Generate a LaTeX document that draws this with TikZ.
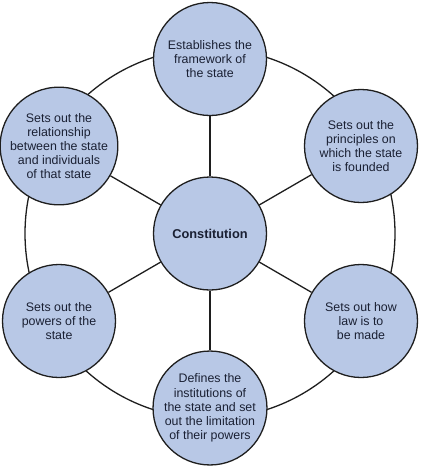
\documentclass[tikz,border=0pt]{standalone}
\usepackage{fontspec}
\setmainfont{Liberation Sans}
\definecolor{bubblefill}{HTML}{B8C8E6}
\definecolor{bubbleline}{HTML}{1E1E1E}
\definecolor{textcol}{HTML}{1A2033}
\begin{document}
\begin{tikzpicture}[x=1pt,y=-1pt,
  bubble/.style={circle,draw=bubbleline,fill=bubblefill,line width=1.3pt,minimum size=113pt,inner sep=0pt,align=center,text=textcol,font=\fontsize{12.4}{14.2}\selectfont},
  link/.style={draw=bubbleline,line width=1.3pt}]
\useasboundingbox (0,0) rectangle (423,467);
\coordinate (c0) at (210,233.5);
\draw[link] (c0) circle[radius=185];
\node[bubble] (ctr) at (c0) {\fontsize{12.8}{14}\selectfont\bfseries Constitution};
\node[bubble] (top) at (210,59) {Establishes the\\framework of\\the state};
\node[bubble] (tr) at (361,146) {Sets out the\\principles on\\which the state\\is founded};
\node[bubble] (br) at (361,321) {Sets out how\\law is to\\be made};
\node[bubble] (bot) at (210,408) {Defines the\\institutions of\\the state and set\\out the limitation\\of their powers};
\node[bubble] (bl) at (59,321) {Sets out the\\powers of the\\state};
\node[bubble] (tl) at (59,146) {Sets out the\\relationship\\between the state\\and individuals\\of that state};
\foreach \n in {top,tr,br,bot,bl,tl} \draw[link] (ctr) -- (\n);
\end{tikzpicture}
\end{document}
